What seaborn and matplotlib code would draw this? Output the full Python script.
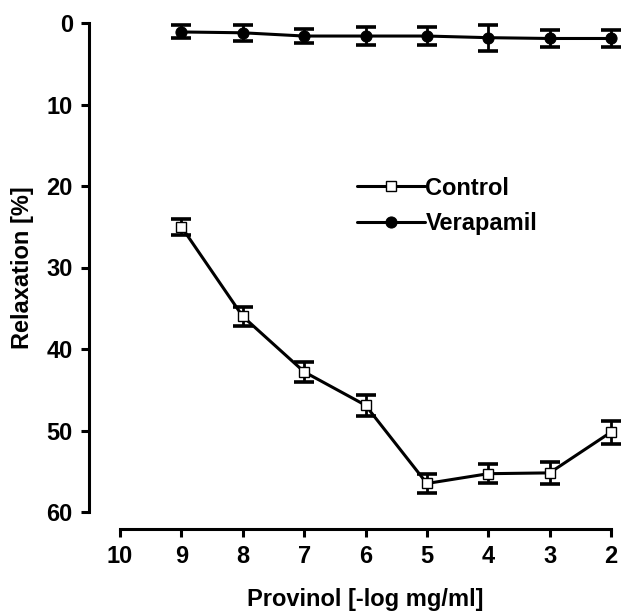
import pandas as pd
import seaborn as sns
import matplotlib.pyplot as plt

# Provinol concentration (-log mg/ml)
conc = [9, 8, 7, 6, 5, 4, 3, 2]
control_mean = [25.0, 36.0, 42.8, 46.9, 56.5, 55.3, 55.2, 50.2]
control_sem = [1.0, 1.2, 1.2, 1.3, 1.2, 1.2, 1.35, 1.4]
verapamil_mean = [1.1, 1.2, 1.6, 1.6, 1.6, 1.8, 1.9, 1.9]
verapamil_sem = [0.8, 1.0, 0.9, 1.1, 1.1, 1.6, 1.0, 1.0]
xticks = [10, 9, 8, 7, 6, 5, 4, 3, 2]
yticks = [0, 10, 20, 30, 40, 50, 60]

sns.set_style("ticks")
plt.rcParams['font.family'] = ['Liberation Sans', 'DejaVu Sans']
plt.rcParams['font.weight'] = 'bold'
for k in ('text.color', 'axes.labelcolor', 'xtick.color', 'ytick.color', 'axes.edgecolor'):
    plt.rcParams[k] = 'black'

ctrl = pd.DataFrame({'conc': conc, 'relax': control_mean, 'sem': control_sem})
vera = pd.DataFrame({'conc': conc, 'relax': verapamil_mean, 'sem': verapamil_sem})

fig = plt.figure(figsize=(6.23, 6.13), dpi=100)
ax = fig.add_axes([120 / 623, 1 - 512 / 613, 491 / 623, 489 / 613])

# error bars first so the markers sit on top
for d in (ctrl, vera):
    ax.errorbar(d['conc'], d['relax'], yerr=d['sem'], fmt='none', ecolor='black',
                elinewidth=2.0, capsize=7.5, capthick=2.6, zorder=2, clip_on=False)

sns.lineplot(data=ctrl, x='conc', y='relax', ax=ax, color='black', lw=2.2,
             marker='s', markersize=6.5, markerfacecolor='white', markeredgecolor='black',
             markeredgewidth=1.0, label='Control', zorder=3, clip_on=False)
sns.lineplot(data=vera, x='conc', y='relax', ax=ax, color='black', lw=2.2,
             marker='o', markersize=8, markerfacecolor='black', markeredgecolor='black',
             label='Verapamil', zorder=3, clip_on=False)

ax.set_xlim(10, 2)
ax.set_ylim(60, 0)
ax.set_xticks(xticks)
ax.set_yticks(yticks)
ax.tick_params(labelsize=17, width=2.2, length=6, pad=6)
for lab in ax.get_xticklabels() + ax.get_yticklabels():
    lab.set_fontweight('bold')

sns.despine(ax=ax)
ax.spines['left'].set_position(('outward', 22))
ax.spines['bottom'].set_position(('outward', 12))
for s in ('left', 'bottom'):
    ax.spines[s].set_linewidth(2.2)

ax.set_xlabel('Provinol [-log mg/ml]', fontsize=17, fontweight='bold', labelpad=14)
ax.set_ylabel('Relaxation [%]', fontsize=17, fontweight='bold', labelpad=9)

leg = ax.legend(loc='center left', bbox_to_anchor=(357 / 623, 1 - 206 / 613),
                bbox_transform=fig.transFigure, frameon=False, fontsize=17,
                handlelength=2.9, handletextpad=0.0, borderpad=0, borderaxespad=0,
                labelspacing=0.55)
for t in leg.get_texts():
    t.set_fontweight('bold')

fig.savefig('out.png', dpi=100)
